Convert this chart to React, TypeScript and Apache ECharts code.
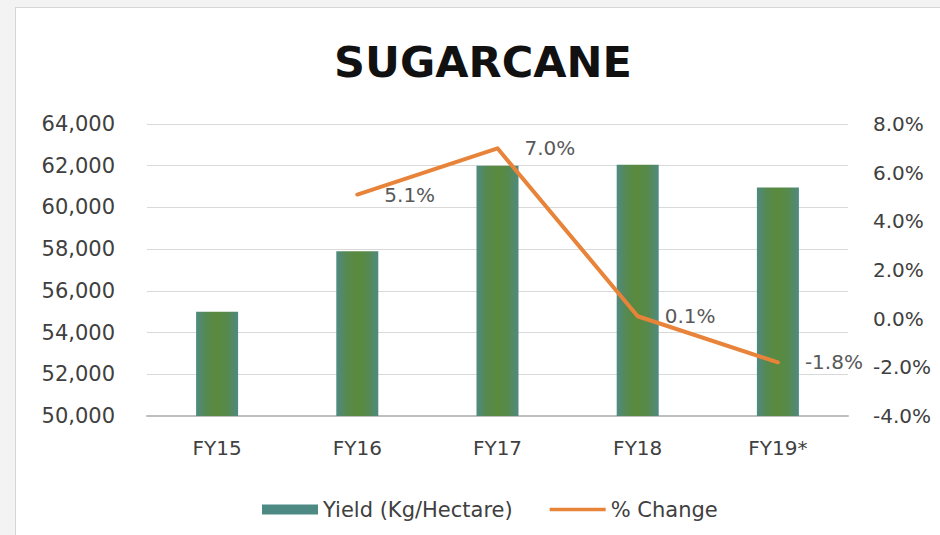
import React, { useEffect, useRef } from "react";
import * as echarts from "echarts";

const categories = ["FY15", "FY16", "FY17", "FY18", "FY19*"];
const yieldValues = [55000, 57900, 62000, 62050, 60950];
const changeValues: (number | null)[] = [null, 5.1, 7.0, 0.1, -1.8];
const titleText = "SUGARCANE";
const barName = "Yield (Kg/Hectare)";
const lineName = "% Change";

const FONT = "DejaVu Sans";

export default function App() {
  const ref = useRef<HTMLDivElement>(null);
  useEffect(() => {
    document.body.style.margin = "0";
    if (!ref.current) return;
    const chart = echarts.init(ref.current, null, { renderer: "svg" });
    chart.setOption({
      animation: false,
      backgroundColor: "transparent",
      textStyle: { fontFamily: FONT },
      graphic: [
        {
          type: "text",
          x: 483,
          y: 62,
          style: {
            text: titleText,
            fontFamily: FONT,
            fontWeight: "bold",
            fontSize: 43,
            fill: "#111111",
            align: "center",
            verticalAlign: "middle",
          },
        },
      ],
      grid: { left: 147, right: 92, top: 124, bottom: 119 },
      legend: {
        left: 257,
        top: 494,
        itemWidth: 56,
        itemHeight: 10,
        itemGap: 37,
        textStyle: { fontFamily: FONT, fontSize: 21, color: "#404040" },
        data: [
          { name: barName, icon: "rect", itemStyle: { color: "#4E8A84" } },
          { name: lineName, icon: "path://M0,0 H60 V4 H0 Z", itemStyle: { color: "#E8833A" } },
        ],
      },
      xAxis: {
        type: "category",
        data: categories,
        boundaryGap: true,
        axisTick: { show: false },
        axisLine: { onZero: false, lineStyle: { color: "#bfbfbf", width: 2 } },
        axisLabel: { fontFamily: FONT, fontSize: 20, color: "#404040", margin: 22 },
      },
      yAxis: [
        {
          type: "value",
          min: 50000,
          max: 64000,
          interval: 2000,
          axisLine: { show: false },
          axisTick: { show: false },
          splitLine: { lineStyle: { color: "#d9d9d9", width: 1 } },
          axisLabel: {
            fontFamily: FONT,
            fontSize: 21,
            color: "#404040",
            margin: 32,
            formatter: (v: number) => v.toLocaleString("en-US"),
          },
        },
        {
          type: "value",
          min: -4,
          max: 8,
          interval: 2,
          position: "right",
          axisLine: { show: false },
          axisTick: { show: false },
          splitLine: { show: false },
          axisLabel: {
            fontFamily: FONT,
            fontSize: 20,
            color: "#404040",
            margin: 25,
            formatter: (v: number) => v.toFixed(1) + "%",
          },
        },
      ],
      series: [
        {
          name: barName,
          type: "bar",
          data: yieldValues,
          barWidth: 42,
          itemStyle: {
            color: new echarts.graphic.LinearGradient(0, 0, 1, 0, [
              { offset: 0, color: "#4F8A80" },
              { offset: 0.25, color: "#56894E" },
              { offset: 0.5, color: "#5A8A3C" },
              { offset: 0.75, color: "#56894E" },
              { offset: 1, color: "#4F8A80" },
            ]),
          },
        },
        {
          name: lineName,
          type: "line",
          yAxisIndex: 1,
          data: changeValues,
          symbol: "circle",
          symbolSize: 2,
          z: 3,
          itemStyle: { color: "#E8833A" },
          lineStyle: { color: "#E8833A", width: 4, cap: "round", join: "round" },
          label: {
            show: true,
            position: "right",
            distance: 26,
            fontFamily: FONT,
            fontSize: 20,
            color: "#595959",
            formatter: (p: any) => (p.value == null ? "" : Number(p.value).toFixed(1) + "%"),
          },
        },
      ],
    });
    return () => chart.dispose();
  }, []);

  return (
    <div style={{ position: "fixed", left: 0, top: 0, width: 940, height: 535, background: "#f3f3f3", overflow: "hidden" }}>
      <div
        style={{
          position: "absolute",
          left: 15,
          top: 7,
          right: 0,
          bottom: 0,
          background: "#ffffff",
          borderLeft: "1px solid #d6d6d6",
          borderTop: "1px solid #d6d6d6",
        }}
      />
      <div ref={ref} style={{ position: "absolute", left: 0, top: 0, width: 940, height: 535 }} />
    </div>
  );
}
